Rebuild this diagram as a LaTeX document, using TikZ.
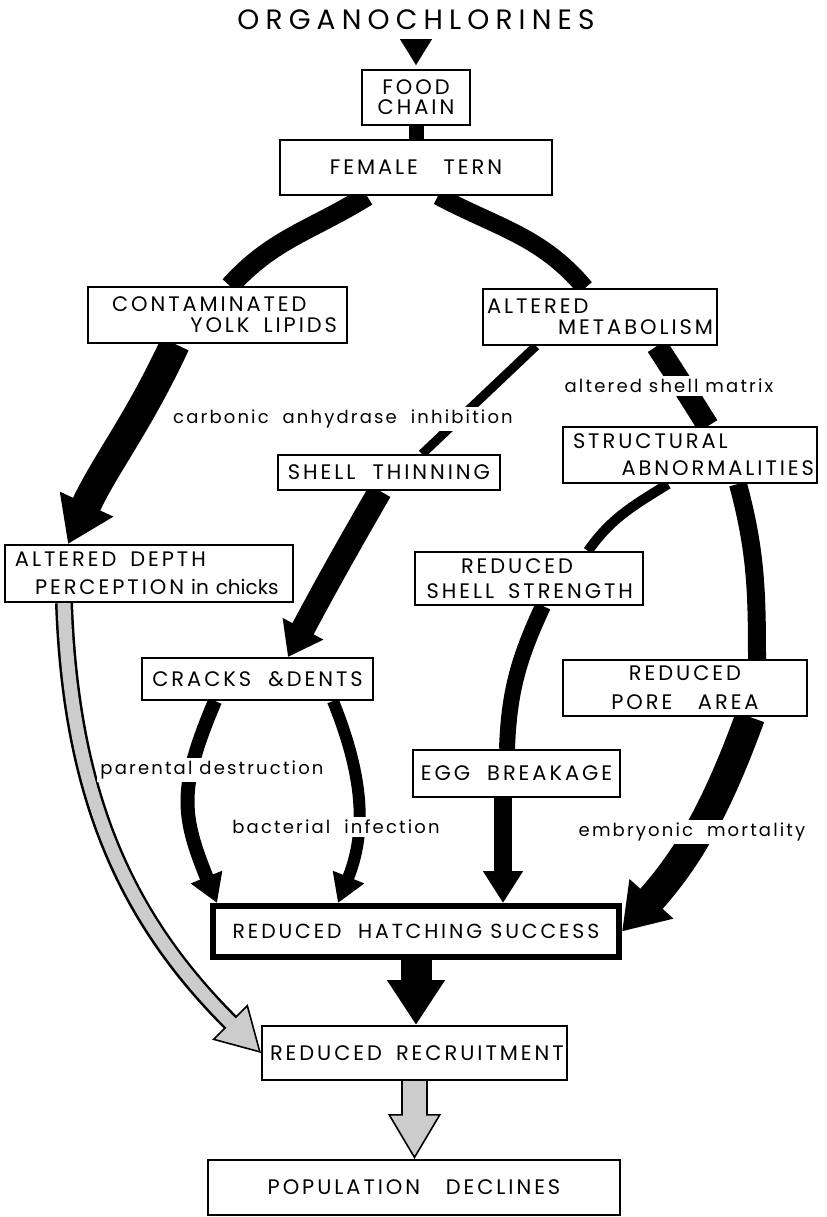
\documentclass[tikz,border=0pt]{standalone}
\usepackage{fontspec}
\setmainfont{Poppins}
\newfontfamily\boxfont{Poppins}[LetterSpace=14]
\newfontfamily\titlefont{Poppins}[LetterSpace=22]
\newfontfamily\labelfont{Poppins}[LetterSpace=12]
\usetikzlibrary{arrows.meta}
\pgfdeclarelayer{background}
\pgfsetlayers{background,main}
\definecolor{dotgray}{gray}{0.8}

\begin{document}
\begin{tikzpicture}[x=0.5pt, y=0.5pt]
    \tikzstyle{box} = [rectangle, draw=black, line width=1pt, fill=white, inner sep=0pt, font=\boxfont\fontsize{10.5}{10.5}\selectfont]
    \tikzstyle{twoline} = [box, align=left, inner xsep=4pt]
    \tikzstyle{lbl} = [fill=white, inner sep=1.5pt, font=\labelfont\fontsize{9}{9}\selectfont]
    \tikzstyle{arrow} = [line width=14pt, -{Triangle[length=22pt, width=28pt]}]
    \tikzstyle{dotarrow} = [draw=black, line width=9pt, -{Triangle[fill=dotgray, line width=0.8pt, length=22pt, width=25pt]}]

    \useasboundingbox (0,0) rectangle (826,-1217);

    % node[Optionen](Name){Inhalt}
    \node (title) at (416,-20) [font=\titlefont\fontsize{14}{14}\selectfont] {ORGANOCHLORINES};
    \coordinate (tri) at (416,-40);
    \node (food) at (416,-97.5) [box, minimum width=54pt, minimum height=27.5pt, align=center] {FOOD\\[-0.5pt]CHAIN};
    \node (female) at (416,-167.5) [box, minimum width=136pt, minimum height=27.5pt] {FEMALE\ \ \ TERN};

    \node (cont) at (217.5,-315) [twoline, inner xsep=5pt, text width=119.5pt, minimum height=28pt] {\hspace*{7pt}CONTAMINATED\\\mbox{}\hfill YOLK\ \ LIPIDS};
    \node (alt) at (600,-317) [twoline, inner xsep=2pt, text width=113pt, minimum height=28pt] {ALTERED\\\mbox{}\hfill METABOLISM};

    \node (thin) at (389,-472.5) [box, minimum width=111pt, minimum height=17.5pt] {SHELL\ \ THINNING};
    \node (struct) at (690,-455) [twoline, inner xsep=1.5pt, text width=124pt, minimum height=28pt] {\hspace*{3.5pt}STRUCTURAL\\[3pt]\mbox{}\hfill ABNORMALITIES};

    \node (depth) at (149,-573.5) [twoline, inner xsep=5pt, text width=134pt, minimum height=28.5pt] {ALTERED\ \ DEPTH\\[3.5pt]\mbox{\hspace*{10pt}PERCEPTION\ {\normalfont\fontsize{10}{10}\selectfont in chicks}}};
    \node (strength) at (529,-578.5) [twoline, inner xsep=5pt, text width=104pt, minimum height=26.5pt] {\hspace*{18pt}REDUCED\\[2pt]\mbox{}\hfill SHELL\ \ STRENGTH};

    \node (cracks) at (257.5,-679) [box, minimum width=115.5pt, minimum height=21pt] {CRACKS\ \ \&DENTS};
    \node (pore) at (685,-688) [box, minimum width=122pt, minimum height=28pt, align=center] {REDUCED\\[4pt]PORE\ \ \ AREA};
    \node (egg) at (516.5,-773.5) [box, minimum width=103.5pt, minimum height=23.5pt] {EGG\ \ BREAKAGE};

    \node (hatch) at (416,-931.5) [box, line width=3pt, minimum width=203pt, minimum height=25.5pt, font=\boxfont\fontsize{10.2}{10.2}\selectfont] {REDUCED\ \ HATCHING\ SUCCESS};
    \node (recruit) at (414.5,-1053) [twoline, text width=144.5pt, minimum height=27pt] {REDUCED\ \ RECRUITMENT};
    \node (pop) at (414,-1187.5) [box, minimum width=206pt, minimum height=27.5pt] {POPULATION\ \ \ DECLINES};

    % ----- ----- ----- ----- ----- ----- ----- ----- ----- ----- ----- -----

    \begin{pgfonlayer}{background}
        \draw [line width=0.1pt, -{Triangle[length=13pt, width=16pt]}, shorten >=2pt] (tri) -- (food);
        \draw [line width=7.5pt] (food) -- (female);

        % left branch
        \draw [line width=10pt] ([xshift=-24.5pt]female.south) to[out=212, in=48] ([xshift=6.25pt]cont.north);
        \draw [arrow, line width=15pt] ([xshift=-21.25pt]cont.south) to[out=245, in=65] ([xshift=-40.5pt]depth.north);

        % right branch
        \draw [line width=9pt] ([xshift=11pt]female.south) to[out=-28, in=130] ([xshift=-7.5pt]alt.north);
        \draw [line width=11pt] ([xshift=28.5pt]alt.south) to[out=-57, in=122] ([xshift=9pt]struct.north);
        \draw [line width=9pt] ([xshift=24pt]struct.south) to[out=-75, in=90] ([xshift=36pt]pore.north);
        \draw [arrow, line width=15pt] ([xshift=32.5pt]pore.south) to[out=250, in=48] (hatch.east);

        % shell thinning
        \draw [line width=4.5pt] ([xshift=-32pt]alt.south) -- ([xshift=16.5pt]thin.north);
        \draw [arrow, line width=12pt, -{Triangle[length=16pt, width=22pt]}] ([xshift=-4.5pt]thin.south) to[out=240, in=62] ([xshift=15.25pt]cracks.north);

        % shell strength
        \draw [line width=5pt] ([xshift=-11pt]struct.south) to[out=212, in=55] ([xshift=29.5pt]strength.north);
        \draw [line width=8pt] ([xshift=7pt]strength.south) to[out=245, in=88] ([xshift=-4.75pt]egg.north);
        \draw [arrow, line width=9pt, -{Triangle[length=16pt, width=19pt]}] ([xshift=-6.75pt]egg.south) -- ([xshift=-6.75pt]egg.south |- hatch.north);

        % cracks & dents
        \draw [arrow, line width=7pt, -{Triangle[length=14pt, width=16pt]}] ([xshift=-21.25pt]cracks.south) to[out=247, in=112, looseness=1.2] ([xshift=-99.5pt]hatch.north);
        \draw [arrow, line width=6pt, -{Triangle[length=14pt, width=16pt]}] ([xshift=37.75pt]cracks.south) to[out=-68, in=68] ([xshift=-39pt]hatch.north);

        % recruitment
        \draw [dotarrow] ([xshift=-42.5pt]depth.south) to[out=272, in=135] (recruit.west);
        \draw [line width=6.5pt, dotgray, shorten >=21pt] ([xshift=-42.5pt]depth.south) to[out=272, in=135] (recruit.west);
        \draw [arrow, line width=15.5pt, -{Triangle[length=22.5pt, width=27.5pt]}] (hatch.south) -- (hatch.south |- recruit.north);
        \draw [dotarrow, line width=13.5pt, -{Triangle[fill=dotgray, line width=0.8pt, length=22.5pt, width=26.5pt]}] (recruit.south) -- (recruit.south |- pop.north);
        \draw [line width=11.5pt, dotgray, shorten >=21.5pt] (recruit.south) -- (recruit.south |- pop.north);
    \end{pgfonlayer}

    % labels
    \node (carbonic) at (343,-419) [lbl] {carbonic\ \ anhydrase\ \ inhibition};
    \node (matrix) at (669,-386) [lbl] {altered shell matrix};
    \node (parental) at (212,-770) [lbl] {parental destruction};
    \node (bacterial) at (336,-827) [lbl] {bacterial\ \ infection};
    \node (embryonic) at (692,-832) [lbl] {embryonic\ \ mortality};
\end{tikzpicture}
\end{document}
